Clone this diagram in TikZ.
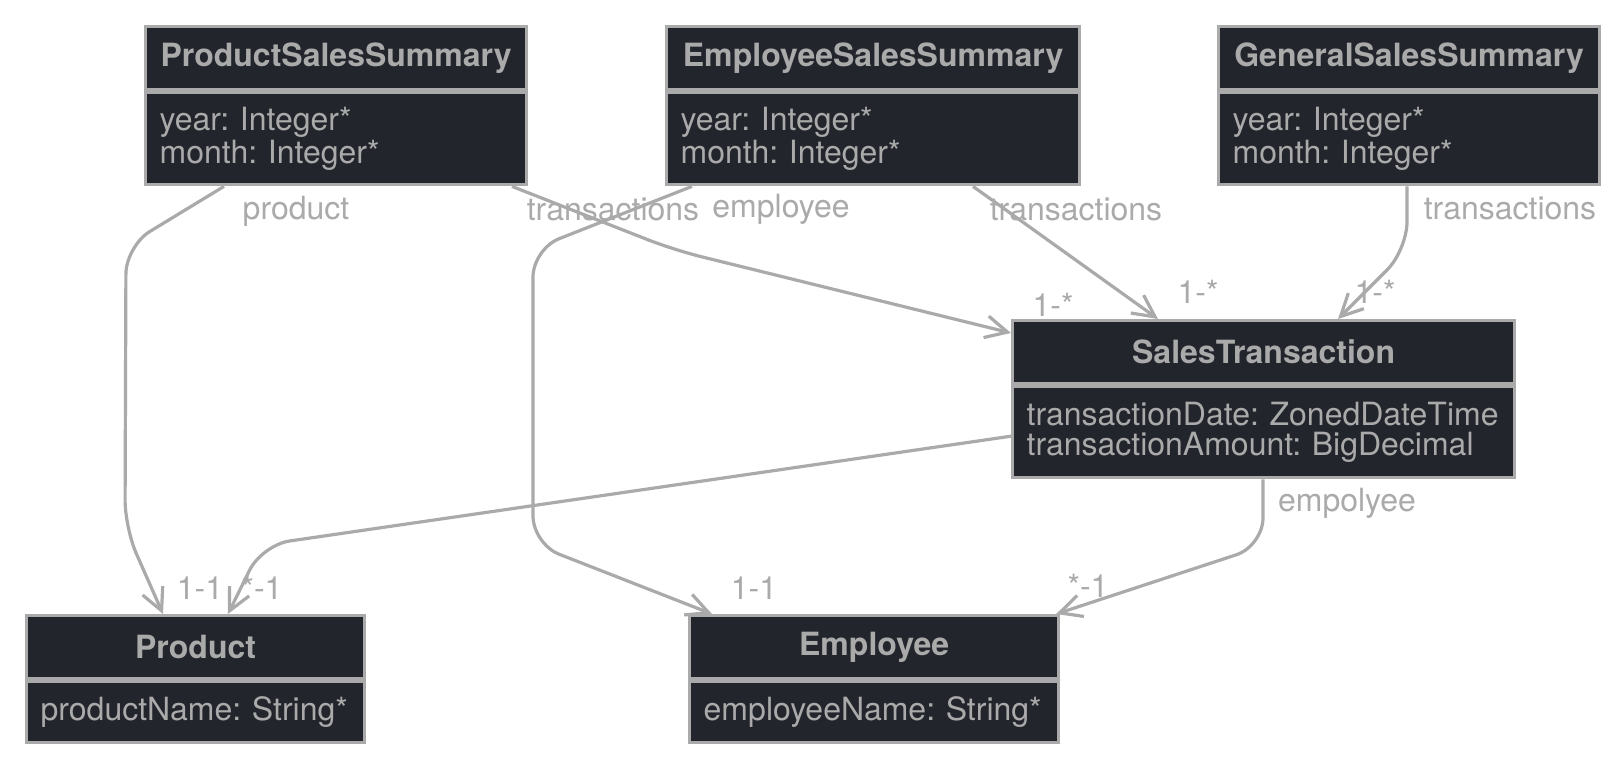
\documentclass[tikz,border=0pt]{standalone}
\usepackage{fontspec}
\setmainfont{TeX Gyre Heros}
\usetikzlibrary{arrows.meta}
\definecolor{umlgray}{HTML}{AAAAAA}
\definecolor{umldark}{HTML}{22252C}

\begin{document}
\frenchspacing
\hyphenpenalty=10000
\begin{tikzpicture}[x=0.5pt,y=-0.5pt,>={Straight Barb[length=11pt,width=11pt]},
        every node/.style={font=\fontsize{16}{15}\selectfont, text=umlgray},
        class head/.style={draw=umlgray, fill=umldark, line width=1.6pt, anchor=north west,
          inner sep=0pt, minimum height=31.5pt, font=\fontsize{16}{15}\selectfont\bfseries},
        class body/.style={draw=umlgray, fill=umldark, line width=1.6pt, anchor=north west,
          inner xsep=7pt, inner ysep=0pt, align=left},
        assoc/.style={->, draw=umlgray, line width=1.6pt, rounded corners=14pt},
        role/.style={inner sep=0pt}]
        \useasboundingbox (0,0) rectangle (1624,764);

        % classes
        \node[class head, minimum width=190.5pt] (pss) at (144,25) {ProductSalesSummary};
        \node[class body, text width=176.5pt, minimum height=46pt] (pssb) at (pss.south west) {year:~Integer*\\month:~Integer*};

        \node[class head, minimum width=206.5pt] (ess) at (665,25) {EmployeeSalesSummary};
        \node[class body, text width=192.5pt, minimum height=46pt] (essb) at (ess.south west) {year:~Integer*\\month:~Integer*};

        \node[class head, minimum width=190.5pt] (gss) at (1217,25) {GeneralSalesSummary};
        \node[class body, text width=176.5pt, minimum height=46pt] (gssb) at (gss.south west) {year:~Integer*\\month:~Integer*};

        \node[class head, minimum width=251pt] (st) at (1011,319) {SalesTransaction};
        \node[class body, text width=237pt, minimum height=45.5pt] (stb) at (st.south west) {transactionDate:~ZonedDateTime\\transactionAmount:~BigDecimal};

        \node[class head, minimum width=169pt] (prod) at (25,614) {Product};
        \node[class body, text width=155pt, minimum height=30.5pt] (prodb) at (prod.south west) {productName:~String*};

        \node[class head, minimum width=184.5pt] (emp) at (688,614) {Employee};
        \node[class body, text width=170.5pt, minimum height=30.5pt] (empb) at (emp.south west) {employeeName:~String*};

        % associations
        \draw[assoc] ([xshift=40pt]pssb.south west) -- (126,246) -- (125,528) -- ([xshift=69pt]prod.north west);
        \draw[assoc] ([xshift=184pt]pssb.south west) -- (674,250) -- ([yshift=-7pt]st.north west);
        \draw[assoc] ([xshift=13.5pt]essb.south west) -- (533,249) -- (533,544) -- ([xshift=12pt]emp.north west);
        \draw[assoc] ([xshift=154pt]essb.south west) -- ([xshift=73.5pt]st.north west);
        \draw[assoc] ([xshift=95pt]gssb.south west) -- (1407,250) -- ([xshift=163.5pt]st.north west);
        \draw[assoc] ([yshift=-25.5pt]stb.north west) -- (262,545) -- ([xshift=101.5pt]prod.north west);
        \draw[assoc] ([xshift=126pt]stb.south west) -- (1263,546) -- ([xshift=-2pt]emp.north east);

        % role names
        \node[role] (rproduct) at (296,211) {product};
        \node[role] (rpsstrans) at (613,209) {transactions};
        \node[role] (remployee) at (781,209) {employee};
        \node[role] (resstrans) at (1076,209) {transactions};
        \node[role] (rgsstrans) at (1510,208) {transactions};
        \node[role] (rempolyee) at (1347,503) {empolyee};

        % multiplicities
        \node[role] (mpssst) at (1053,305) {1-*};
        \node[role] (messst) at (1198,292) {1-*};
        \node[role] (mgssst) at (1375,292) {1-*};
        \node[role] (mpssprod) at (200,588) {1-1};
        \node[role] (mstprod) at (262,588) {*-1};
        \node[role] (messemp) at (754,588) {1-1};
        \node[role] (mstemp) at (1088,586) {*-1};

      \end{tikzpicture}
\end{document}
